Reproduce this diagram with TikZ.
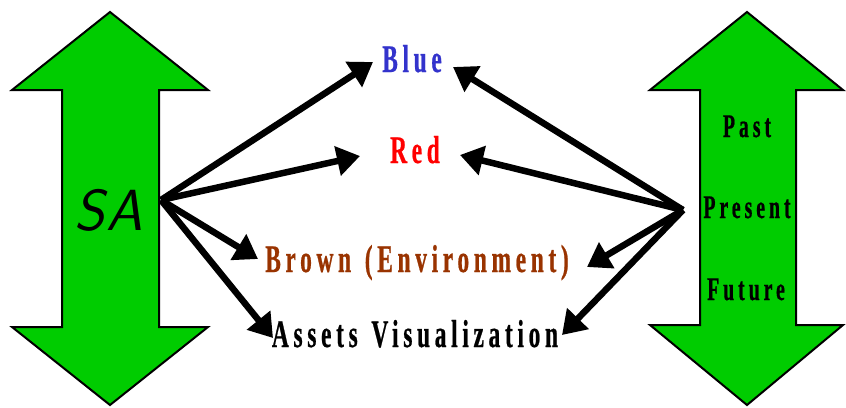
\documentclass[tikz,border=0pt]{standalone}
\usepackage{fontspec}
\usetikzlibrary{arrows.meta}
\newfontfamily\lblfont[FakeStretch=0.6,LetterSpace=12,FakeBold=0.6,WordSpace=1.3]{Liberation Serif}
\definecolor{arrowgreen}{HTML}{00CC00}
\definecolor{lblblue}{HTML}{3333CC}
\definecolor{lblred}{HTML}{FF0000}
\definecolor{lblbrown}{HTML}{993300}
\tikzset{
  bigarrow/.style={draw=black, line width=2pt, fill=arrowgreen, line join=miter},
  lbl/.style={inner sep=0pt, anchor=base, font=\lblfont\bfseries\fontsize{39}{39}\selectfont},
  timelbl/.style={inner sep=0pt, anchor=base, font=\lblfont\bfseries\fontsize{33}{33}\selectfont},
  conn/.style={line width=6.5pt, -{Triangle[length=23pt,width=29pt]}},
}
\begin{document}
\begin{tikzpicture}[x=1pt,y=-1pt]
\useasboundingbox (0,0) rectangle (846,407);
% left double arrow
\draw[bigarrow] (110,12) -- (208,90) -- (159,90) -- (159,327) -- (208,327) -- (110,405)
  -- (12,327) -- (62,327) -- (62,90) -- (12,90) -- cycle;
% right double arrow
\draw[bigarrow] (747,12) -- (843,90) -- (796,90) -- (796,325) -- (843,325) -- (747,405)
  -- (650,325) -- (700,325) -- (700,90) -- (650,90) -- cycle;

\node[inner sep=0pt, anchor=base, font=\sffamily\itshape\fontsize{58}{58}\selectfont] (sa) at (109,230) {S\kern2pt A};
\node[timelbl] (past) at (747,137) {Past};
\node[timelbl] (present) at (747,218) {Present};
\node[timelbl] (future) at (746,300) {Future};

\node[lbl, text=lblblue] (blue) at (412,72) {Blue};
\node[lbl, text=lblred] (red) at (415,163) {Red};
\node[lbl, text=lblbrown] (brown) at (417,272) {Brown (Environment)};
\node[lbl, text=black] (assets) at (415,347) {Assets Visualization};

% fan points on the shafts and arrow ends beside the labels
\coordinate (safan) at (161,200);
\coordinate (timefan) at (683,210);
\coordinate (blueL) at (373,62);
\coordinate (redL) at (360,156);
\coordinate (brownL) at (258,259);
\coordinate (assetsL) at (273,338);
\coordinate (blueR) at (453,67);
\coordinate (redR) at (460,155);
\coordinate (brownR) at (587,267);
\coordinate (assetsR) at (562,335);

\draw[conn] (safan) -- (blueL);
\draw[conn] (safan) -- (redL);
\draw[conn] (safan) -- (brownL);
\draw[conn] (safan) -- (assetsL);
\draw[conn] (timefan) -- (blueR);
\draw[conn] (timefan) -- (redR);
\draw[conn] (timefan) -- (brownR);
\draw[conn] (timefan) -- (assetsR);
\end{tikzpicture}
\end{document}
